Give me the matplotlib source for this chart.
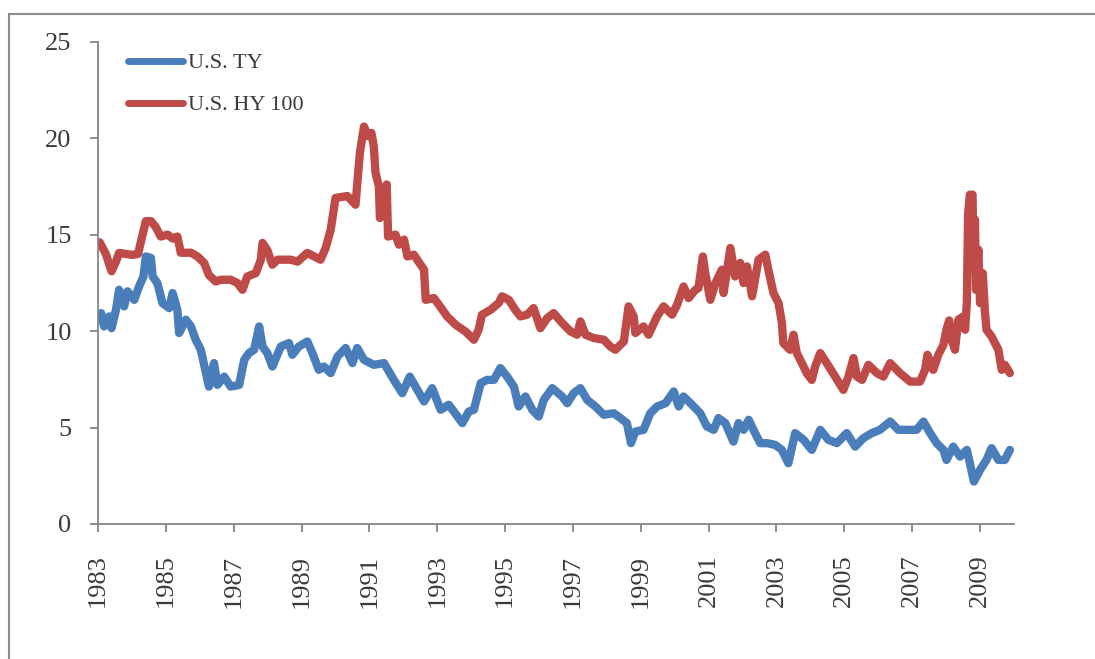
import matplotlib
matplotlib.use('Agg')
import matplotlib.pyplot as plt
from matplotlib.lines import Line2D

# ─── data (x = position in years) ───────────────────────────────────────────
hy_years = [
    1983.05, 1983.23, 1983.40, 1983.53, 1983.62, 1983.80, 1984.00, 1984.18,
    1984.26, 1984.41, 1984.56, 1984.70, 1984.85, 1985.05, 1985.20, 1985.34,
    1985.44, 1985.74, 1985.93, 1986.13, 1986.27, 1986.47, 1986.62, 1986.91,
    1987.11, 1987.26, 1987.40, 1987.65, 1987.80, 1987.85, 1987.99, 1988.14,
    1988.29, 1988.68, 1988.88, 1989.17, 1989.37, 1989.56, 1989.71, 1989.86,
    1990.00, 1990.35, 1990.59, 1990.66, 1990.72, 1990.84, 1990.96, 1991.06,
    1991.13, 1991.18, 1991.28, 1991.31, 1991.43, 1991.51, 1991.55, 1991.77,
    1991.87, 1992.02, 1992.12, 1992.31, 1992.41, 1992.61, 1992.66, 1992.90,
    1993.05, 1993.29, 1993.54, 1993.83, 1994.08, 1994.22, 1994.32, 1994.57,
    1994.81, 1994.91, 1995.11, 1995.30, 1995.45, 1995.65, 1995.84, 1996.04,
    1996.24, 1996.43, 1996.68, 1996.93, 1997.12, 1997.22, 1997.37, 1997.61,
    1997.91, 1998.10, 1998.25, 1998.50, 1998.64, 1998.79, 1998.84, 1999.08,
    1999.23, 1999.48, 1999.67, 1999.92, 2000.07, 2000.26, 2000.41, 2000.61,
    2000.70, 2000.83, 2000.90, 2001.05, 2001.20, 2001.39, 2001.44, 2001.64,
    2001.78, 2001.93, 2002.03, 2002.13, 2002.28, 2002.47, 2002.67, 2002.76,
    2002.91, 2003.06, 2003.16, 2003.20, 2003.40, 2003.50, 2003.60, 2003.70,
    2003.89, 2004.04, 2004.14, 2004.29, 2004.48, 2004.73, 2004.97, 2005.12,
    2005.27, 2005.37, 2005.52, 2005.71, 2005.96, 2006.15, 2006.35, 2006.64,
    2006.94, 2007.23, 2007.38, 2007.45, 2007.62, 2007.77, 2007.92, 2008.01,
    2008.09, 2008.16, 2008.26, 2008.36, 2008.51, 2008.56, 2008.61, 2008.65,
    2008.70, 2008.78, 2008.80, 2008.85, 2008.88, 2008.95, 2009.00, 2009.08,
    2009.14, 2009.19, 2009.34, 2009.44, 2009.54, 2009.64, 2009.73, 2009.88,
]
hy_values = [
    14.6, 14.0, 13.1, 13.6, 14.05, 14.0, 13.95, 14.0,
    14.6, 15.7, 15.7, 15.4, 14.9, 15.0, 14.8, 14.9,
    14.06, 14.06, 13.87, 13.53, 12.9, 12.57, 12.66, 12.66,
    12.49, 12.14, 12.83, 13.0, 13.7, 14.57, 14.2, 13.44,
    13.7, 13.7, 13.6, 14.05, 13.87, 13.7, 14.3, 15.26,
    16.9, 17.0, 16.55, 18.0, 19.24, 20.6, 20.1, 20.27,
    19.58, 18.2, 17.5, 15.86, 16.8, 17.6, 14.9, 15.0,
    14.48, 14.74, 13.87, 13.96, 13.7, 13.18, 11.62, 11.71,
    11.36, 10.76, 10.33, 9.98, 9.55, 10.07, 10.85, 11.1,
    11.45, 11.8, 11.62, 11.1, 10.76, 10.85, 11.19, 10.15,
    10.67, 10.93, 10.42, 9.98, 9.81, 10.5, 9.81, 9.64,
    9.55, 9.2, 9.03, 9.46, 11.28, 10.76, 9.9, 10.24,
    9.81, 10.76, 11.28, 10.85, 11.36, 12.31, 11.71, 12.14,
    12.23, 13.87, 13.0, 11.62, 12.49, 13.18, 11.97, 14.31,
    12.83, 13.53, 12.49, 13.35, 11.8, 13.7, 13.96, 13.18,
    11.97, 11.45, 10.42, 9.38, 9.03, 9.81, 8.86, 8.51,
    7.82, 7.47, 8.16, 8.86, 8.34, 7.64, 6.95, 7.64,
    8.6, 7.64, 7.47, 8.25, 7.82, 7.64, 8.34, 7.82,
    7.38, 7.38, 7.99, 8.77, 7.99, 8.77, 9.29, 10.07,
    10.55, 9.55, 9.03, 10.59, 10.76, 10.07, 11.45, 16.12,
    17.07, 17.07, 14.05, 15.78, 12.14, 14.22, 11.45, 13.0,
    11.1, 10.07, 9.72, 9.38, 9.03, 7.99, 8.25, 7.82,
]

ty_years = [
    1983.05, 1983.09, 1983.18, 1983.33, 1983.40, 1983.53, 1983.62, 1983.77,
    1983.87, 1984.07, 1984.21, 1984.34, 1984.41, 1984.56, 1984.61, 1984.75,
    1984.90, 1985.10, 1985.20, 1985.34, 1985.39, 1985.59, 1985.74, 1985.88,
    1986.03, 1986.18, 1986.27, 1986.42, 1986.52, 1986.72, 1986.91, 1987.16,
    1987.31, 1987.45, 1987.60, 1987.75, 1987.85, 1987.99, 1988.14, 1988.39,
    1988.63, 1988.73, 1988.92, 1989.17, 1989.32, 1989.51, 1989.66, 1989.86,
    1990.06, 1990.30, 1990.50, 1990.64, 1990.84, 1991.13, 1991.43, 1991.72,
    1991.97, 1992.19, 1992.61, 1992.85, 1993.10, 1993.34, 1993.74, 1993.93,
    1994.08, 1994.28, 1994.47, 1994.67, 1994.86, 1995.06, 1995.26, 1995.40,
    1995.60, 1995.80, 1995.99, 1996.14, 1996.39, 1996.68, 1996.83, 1997.02,
    1997.22, 1997.42, 1997.66, 1997.91, 1998.20, 1998.40, 1998.59, 1998.71,
    1998.84, 1999.08, 1999.28, 1999.48, 1999.73, 1999.97, 2000.12, 2000.26,
    2000.51, 2000.75, 2000.95, 2001.15, 2001.29, 2001.49, 2001.73, 2001.88,
    2002.03, 2002.18, 2002.32, 2002.52, 2002.72, 2002.96, 2003.16, 2003.35,
    2003.55, 2003.80, 2004.04, 2004.29, 2004.53, 2004.78, 2005.07, 2005.32,
    2005.56, 2005.81, 2006.05, 2006.35, 2006.59, 2006.84, 2007.13, 2007.33,
    2007.53, 2007.72, 2007.92, 2008.01, 2008.21, 2008.41, 2008.61, 2008.70,
    2008.82, 2009.00, 2009.19, 2009.34, 2009.54, 2009.73, 2009.88,
]
ty_values = [
    10.6, 10.93, 10.24, 10.76, 10.15, 11.1, 12.14, 11.28,
    12.06, 11.62, 12.31, 12.83, 13.87, 13.79, 12.83, 12.49,
    11.45, 11.19, 11.97, 11.1, 9.9, 10.59, 10.24, 9.55,
    9.03, 7.82, 7.12, 8.34, 7.21, 7.64, 7.12, 7.21,
    8.51, 8.86, 9.03, 10.24, 9.2, 8.86, 8.16, 9.2,
    9.38, 8.77, 9.2, 9.46, 8.86, 7.99, 8.16, 7.82,
    8.68, 9.12, 8.34, 9.12, 8.51, 8.25, 8.34, 7.47,
    6.78, 7.64, 6.35, 7.04, 5.92, 6.18, 5.23, 5.83,
    5.92, 7.3, 7.47, 7.47, 8.08, 7.64, 7.12, 6.09,
    6.61, 5.92, 5.57, 6.43, 7.04, 6.61, 6.26, 6.78,
    7.04, 6.43, 6.09, 5.66, 5.74, 5.49, 5.23, 4.19,
    4.79, 4.88, 5.74, 6.09, 6.26, 6.87, 6.09, 6.61,
    6.18, 5.74, 5.05, 4.88, 5.49, 5.23, 4.27, 5.23,
    4.88, 5.4, 4.88, 4.19, 4.19, 4.1, 3.84, 3.15,
    4.71, 4.36, 3.84, 4.88, 4.36, 4.19, 4.71, 4.01,
    4.45, 4.71, 4.88, 5.31, 4.88, 4.88, 4.88, 5.31,
    4.71, 4.19, 3.84, 3.32, 4.01, 3.49, 3.84, 3.15,
    2.2, 2.8, 3.32, 3.93, 3.32, 3.32, 3.84,
]

year_ticks = list(range(1983, 2010, 2))
value_ticks = [0, 5, 10, 15, 20, 25]

TY_COLOR = '#4A7EBB'
HY_COLOR = '#BE4B48'
AXIS_COLOR = '#868686'
TEXT_COLOR = '#3a3a3a'

plt.rcParams['font.family'] = ['Liberation Serif', 'DejaVu Serif']

fig = plt.figure(figsize=(10.95, 6.59), dpi=100, facecolor='white')
ax = fig.add_axes([0.0895, 0.2049, 0.8365, 0.7318])

ax.plot(ty_years, ty_values, color=TY_COLOR, linewidth=6,
        solid_joinstyle='round', solid_capstyle='round', label='U.S. TY')
ax.plot(hy_years, hy_values, color=HY_COLOR, linewidth=6,
        solid_joinstyle='round', solid_capstyle='round', label='U.S. HY 100')

ax.set_xlim(1983, 2010)
ax.set_ylim(0, 25)
ax.set_xticks(year_ticks)
ax.set_xticklabels([str(y) for y in year_ticks], rotation=90)
ax.set_yticks(value_ticks)

ax.spines[['top', 'right']].set_visible(False)
for side in ('left', 'bottom'):
    ax.spines[side].set_color(AXIS_COLOR)
    ax.spines[side].set_linewidth(1.3)
ax.tick_params(axis='both', direction='out', length=6, width=1.3,
               color=AXIS_COLOR, labelcolor=TEXT_COLOR, labelsize=19)
ax.tick_params(axis='x', pad=16)
ax.tick_params(axis='y', pad=13)

leg = ax.legend(loc='upper left', bbox_to_anchor=(0.0324, 0.977),
                frameon=False, fontsize=16, handlelength=2.5,
                handletextpad=0.22, labelspacing=0.97, borderpad=0,
                borderaxespad=0)
for text in leg.get_texts():
    text.set_color(TEXT_COLOR)
for line in leg.get_lines():
    line.set_solid_capstyle('round')
    line.set_linewidth(5)

# outer chart frame (only top and left edges are inside the picture)
fig.add_artist(Line2D([0.0082, 1.0], [0.9788, 0.9788], color='#8c8c8c',
                      linewidth=1.5, transform=fig.transFigure))
fig.add_artist(Line2D([0.0082, 0.0082], [0.0, 0.9788], color='#8c8c8c',
                      linewidth=1.5, transform=fig.transFigure))

fig.savefig('out.png', dpi=100, facecolor='white')
plt.close(fig)
